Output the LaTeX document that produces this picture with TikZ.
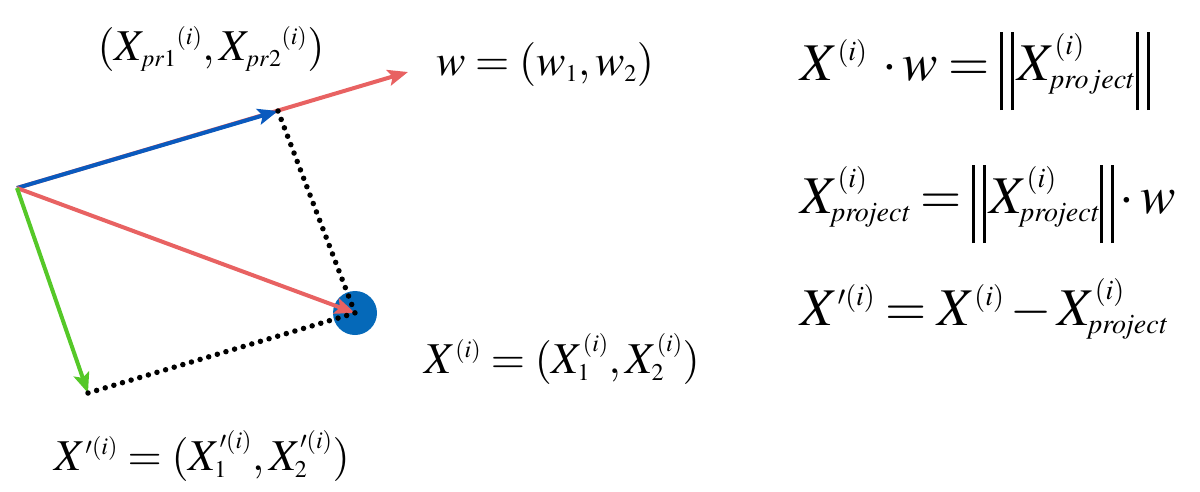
\documentclass[tikz,border=0pt]{standalone}
\usepackage{mathptmx}
\usetikzlibrary{arrows.meta}
\DeclareMathSizes{44}{44}{24}{18}
\DeclareMathSizes{53}{53}{28}{21}
\definecolor{vred}{RGB}{232,98,98}
\definecolor{vblue}{RGB}{10,90,190}
\definecolor{vgreen}{RGB}{85,200,40}
\definecolor{cblue}{RGB}{5,105,185}
\newcommand{\prj}{\mathit{project}}
\newcommand{\prjw}{project}
\newcommand{\dbar}{\rule[-0.57em]{0.06em}{1.47em}\hspace{0.15em}\rule[-0.57em]{0.06em}{1.47em}}
\newcommand{\nopen}{\mathopen{\dbar}\mkern1mu}
\newcommand{\nclose}{\mathclose{\dbar}}
\newcommand{\eqsp}{\thickmuskip=3.5mu\relax\medmuskip=2mu\relax}
\tikzset{
  vec/.style={line width=4pt,-{Stealth[length=20pt,width=16pt,inset=4pt]}},
  dots/.style={line width=5.5pt,line cap=round,dash pattern=on 0pt off 9pt},
  lbl/.style={inner sep=0pt,font=\fontsize{44}{48}\selectfont},
  eqn/.style={inner sep=0pt,anchor=base west,font=\fontsize{53}{58}\selectfont}
}
\begin{document}
\begin{tikzpicture}[x=1pt,y=-1pt]
\useasboundingbox (0,0) rectangle (1200,491);
\coordinate (O) at (17,188);
\coordinate (W) at (408,72);
\coordinate (P) at (278,111);
\coordinate (G) at (88,393);
\node[circle,fill=cblue,minimum size=44pt,inner sep=0pt] (C) at (355,313) {};
\draw[vec,vred] (O) -- (W);
\draw[vec,vblue] (O) -- (P);
\draw[vec,vred] (O) -- (C.center);
\draw[vec,vgreen] (O) -- (G);
\draw[dots] (P) -- (C.center);
\draw[dots] (G) -- (C.center);
\node[lbl,anchor=base] (lp) at (211,60) {$(X_{pr1}{}^{(i)},X_{pr2}{}^{(i)})$};
\node[lbl,anchor=base] (lw) at (545,75) {$w=(w_1,w_2)$};
\node[lbl,anchor=base] (lx) at (562,373) {$X^{(i)}=(X^{(i)}_1,X^{(i)}_2)$};
\node[lbl,anchor=base] (lxp) at (202,470) {$X'^{(i)}=(X'^{(i)}_1,X'^{(i)}_2)$};
\node[eqn] (e1) at (800,80) {$\eqsp X^{(i)}\mkern3mu\cdot w=\nopen X^{(i)}_{\prjw}\nclose$};
\node[eqn] (e2) at (800,213) {$\eqsp X^{(i)}_{\prj}=\nopen X^{(i)}_{\prj}\nclose\cdot w$};
\node[eqn] (e3) at (800,325) {$\eqsp X'^{(i)}=X^{(i)}-X^{(i)}_{\prj}$};
\end{tikzpicture}
\end{document}
